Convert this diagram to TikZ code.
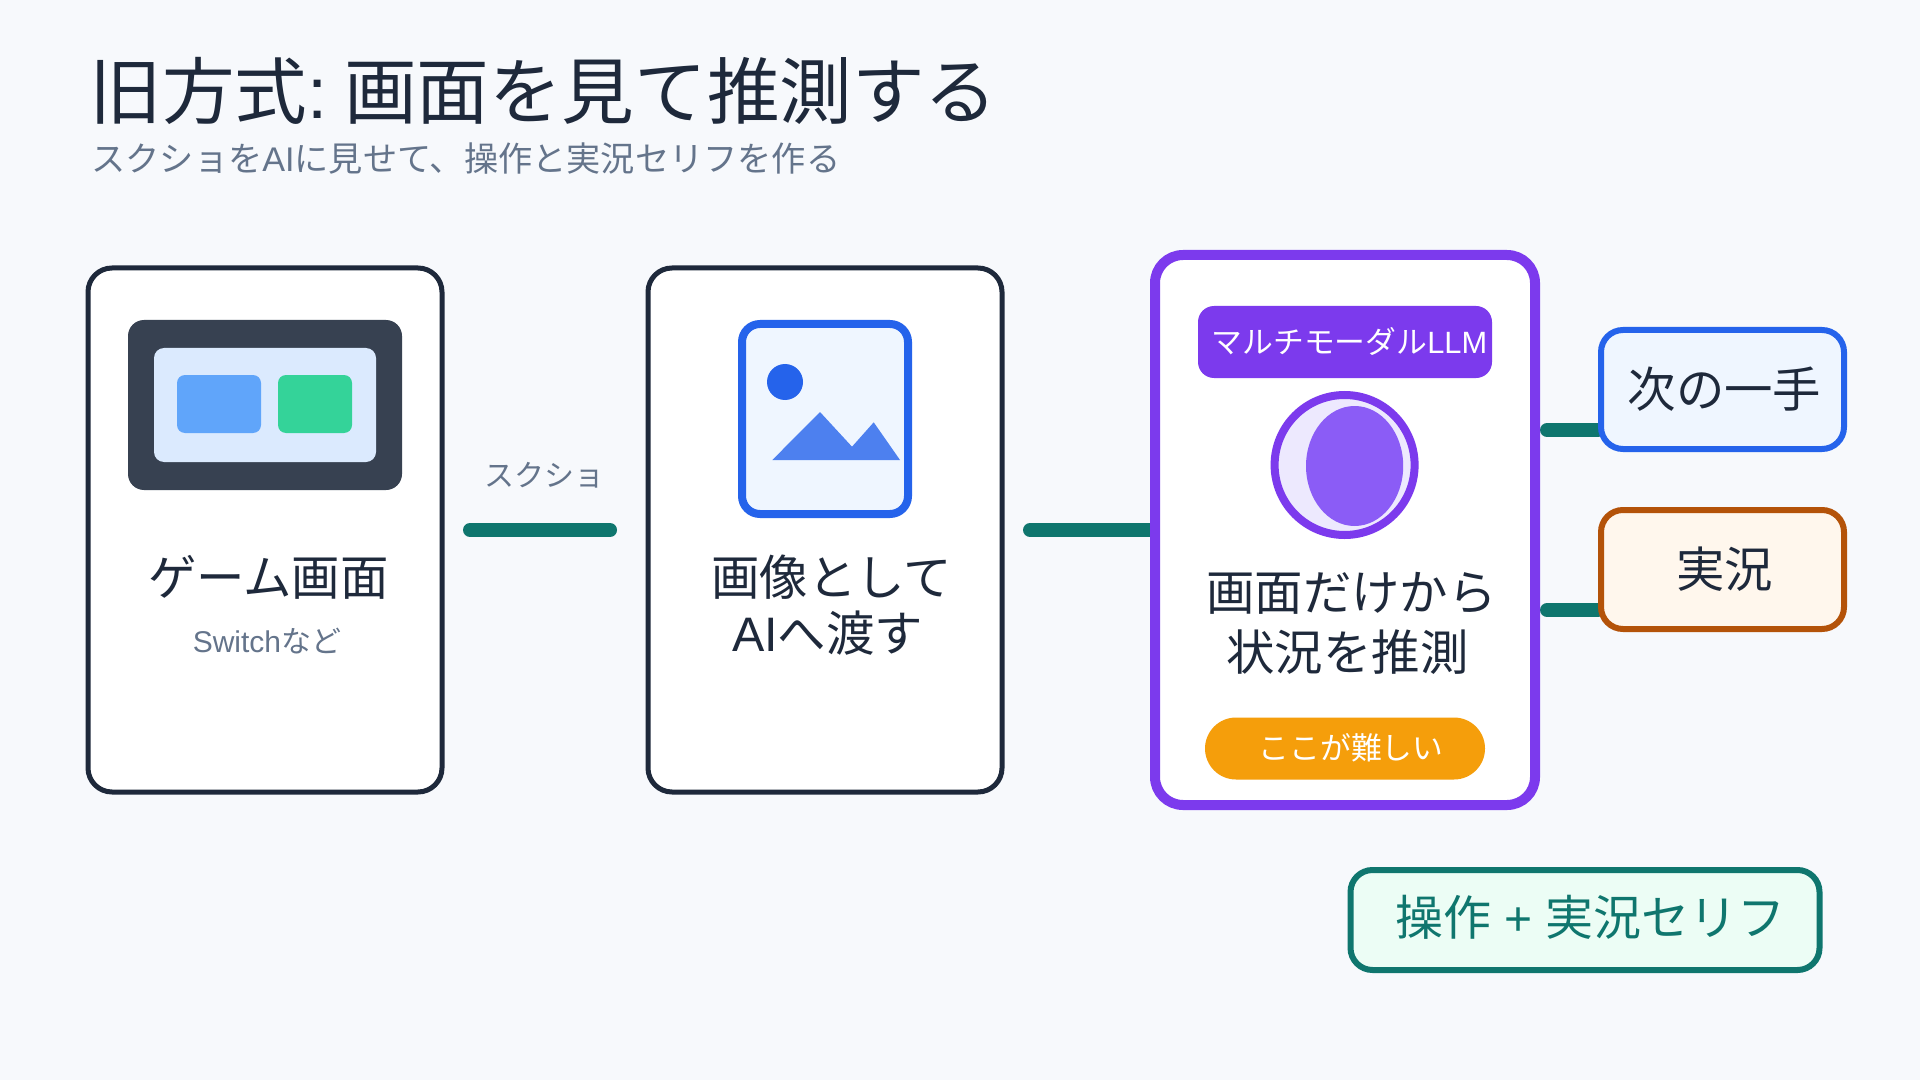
\documentclass[tikz,border=0pt]{standalone}
\usepackage{fontspec}
\setmainfont{Noto Sans CJK JP}
\newfontfamily\latinfont{Liberation Sans}
\usetikzlibrary{backgrounds}
\definecolor{paper}{HTML}{F7F9FC}
\definecolor{ink}{HTML}{1E293B}
\definecolor{muted}{HTML}{64748B}
\definecolor{petrol}{HTML}{0F766E}
\definecolor{bluish}{HTML}{2563EB}
\definecolor{purple}{HTML}{7C3AED}
\definecolor{rust}{HTML}{B45309}
\definecolor{amber}{HTML}{F59E0B}
\definecolor{monitor}{HTML}{374151}
\definecolor{screen}{HTML}{DBEAFE}
\definecolor{sky}{HTML}{60A5FA}
\definecolor{mint}{HTML}{34D399}
\definecolor{palesky}{HTML}{EFF6FF}
\definecolor{palepurple}{HTML}{EDE9FE}
\definecolor{violet}{HTML}{8B5CF6}
\definecolor{palesand}{HTML}{FFF7ED}
\definecolor{palemint}{HTML}{ECFDF5}
\tikzset{
    card/.style={draw=ink, fill=white, line width=2.5pt, rounded corners=12pt, minimum width=177pt, minimum height=262pt},
    outbox/.style={line width=3pt, rounded corners=11pt, minimum width=121.5pt, minimum height=59.5pt, text=ink, font=\fontsize{24.2}{28}\selectfont},
    wire/.style={petrol, line width=7pt, line cap=round},
    big/.style={text=ink, inner sep=0pt, align=center, font=\fontsize{24.2}{28}\selectfont},
    small/.style={text=muted, inner sep=0pt, font=\fontsize{15}{18}\selectfont},
    badge/.style={text=white, inner sep=0pt, font=\fontsize{15.4}{18}\selectfont}
}

\begin{document}
\begin{tikzpicture}[x=0.5pt, y=-0.5pt]

    \useasboundingbox (0,0) rectangle (1920,1080);

    \node[text=ink, anchor=west, inner sep=0pt, font=\fontsize{36.3}{40}\selectfont] (title) at (89,91) {旧方式{\latinfont :} \hspace{-2.5pt}画面を見て推測する};
    \node[text=muted, anchor=west, inner sep=0pt, font=\fontsize{17.1}{20}\selectfont] (subtitle) at (91,159) {スクショを{\latinfont AI}に見せて、操作と実況セリフを作る};

    \node[card] (gamecard) at (265,530) {};
    \node[card] (imagecard) at (825,530) {};
    \node[card, draw=purple, line width=5pt, rounded corners=14pt, minimum width=190pt, minimum height=275pt] (llmcard) at (1345,530) {};

    % game screen
    \fill[monitor, rounded corners=8pt] (128,320) rectangle (402,490);
    \fill[screen, rounded corners=5pt] (154,348) rectangle (376,462);
    \fill[sky, rounded corners=4pt] (177,375) rectangle (261,433);
    \fill[mint, rounded corners=4pt] (278,375) rectangle (352,433);

    % image icon
    \draw[draw=bluish, fill=palesky, line width=4pt, rounded corners=9pt] (742,324) rectangle (908,514);
    \fill[bluish] (785,382) circle (18);
    \fill[bluish, opacity=.8] (772.3,460) -- (820,412) -- (852,446.7) -- (873.7,422.3) -- (900,460) -- cycle;

    % llm
    \node[fill=purple, rounded corners=8pt, minimum width=147pt, minimum height=36pt] (llmbadge) at (1345,342) {};
    \node[badge] (llmlabel) at (1349.5,342) {マルチモーダル{\latinfont LLM}};
    \draw[draw=purple, fill=palepurple, line width=4pt] (1344.6,465) circle (70);
    \fill[violet] (1354.6,466) ellipse [x radius=48.6, y radius=60];
    \node[big] (llmtext) at (1351.5,623) {画面だけから\\[2pt]\hspace*{-4pt}状況を推測};
    \node[fill=amber, rounded corners=15.5pt, minimum width=140pt, minimum height=31pt] (hardpill) at (1345,748.5) {};
    \node[badge] (hardlabel) at (1351,748) {ここが難しい};

    \node[big] (gamelabel) at (268.5,577) {ゲーム画面};
    \node[small] (gamenote) at (267,641) {{\latinfont Switch}など};
    \node[big] (imagelabel) at (831.5,605) {画像として\\\hspace*{-4pt}{\latinfont AI}へ渡す};
    \node[small] (shotlabel) at (544.5,475) {スクショ};

    \node[outbox, draw=bluish, fill=palesky] (nextbox) at (1722.5,389.5) {\hspace{2pt}次の一手};
    \node[outbox, draw=rust, fill=palesand] (talkbox) at (1722.5,569.5) {\hspace{2pt}実況};
    \node[outbox, draw=petrol, fill=palemint, minimum width=234.5pt, minimum height=50pt] (resultbox) at (1585,920) {};
    \node[text=petrol, inner sep=0pt, font=\fontsize{24}{28}\selectfont] (resultlabel) at (1590.5,917.5) {操作{\latinfont{} + }実況セリフ};

    \coordinate (shotstart) at (470,530);
    \coordinate (shotend) at (610,530);
    \coordinate (sendstart) at (1030,530);
    \coordinate (nextstart) at (1547,430);
    \coordinate (talkstart) at (1547,610);

    \begin{scope}[on background layer]
        \fill[paper] (0,0) rectangle (1920,1080);
        \draw[wire] (shotstart) -- (shotend);
        \draw[wire] (sendstart) -- (sendstart -| llmcard.west);
        \draw[wire] (nextstart) -- (nextstart -| nextbox.west);
        \draw[wire] (talkstart) -- (talkstart -| talkbox.west);
    \end{scope}

\end{tikzpicture}
\end{document}
